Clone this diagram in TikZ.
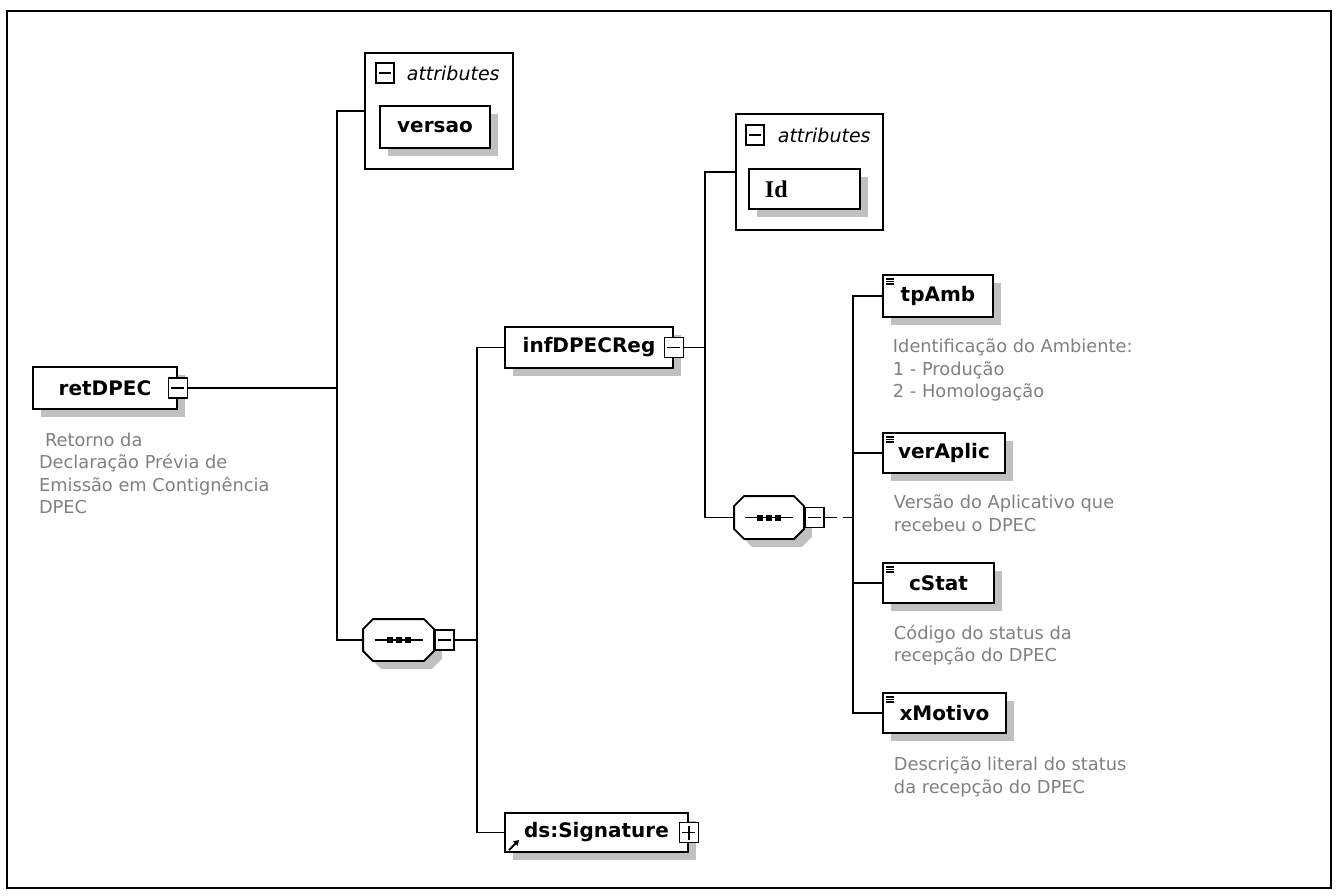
\documentclass[tikz,border=0pt]{standalone}
\usepackage{fontspec}
\setmainfont{DejaVu Sans}
\newfontfamily\serifbold{Liberation Serif}
\usetikzlibrary{positioning,calc,shadows,arrows.meta}
\definecolor{descgray}{RGB}{128,128,128}
\definecolor{shadowgray}{RGB}{192,192,192}

% octagon of a sequence compositor, drawn round a node
\newcommand{\seqoutline}[1]{%
  \fill [shadowgray,transform canvas={shift={(8pt,-8pt)}}]
    ([xshift=10pt]#1.north west) -- ([xshift=-10pt]#1.north east) -- ([yshift=-10pt]#1.north east)
    -- ([yshift=10pt]#1.south east) -- ([xshift=-10pt]#1.south east) -- ([xshift=10pt]#1.south west)
    -- ([yshift=10pt]#1.south west) -- ([yshift=-10pt]#1.north west) -- cycle;
  \filldraw [fill=white,line width=1.9pt]
    ([xshift=10pt]#1.north west) -- ([xshift=-10pt]#1.north east) -- ([yshift=-10pt]#1.north east)
    -- ([yshift=10pt]#1.south east) -- ([xshift=-10pt]#1.south east) -- ([xshift=10pt]#1.south west)
    -- ([yshift=10pt]#1.south west) -- ([yshift=-10pt]#1.north west) -- cycle;
  \draw [line width=1.6pt] ([xshift=-24pt]#1.center) -- ([xshift=24pt]#1.center);
  \foreach \d in {-9pt,0pt,9pt}
    \fill [black] ([xshift=\d]#1.center) +(-3pt,-3pt) rectangle +(3pt,3pt);
}

\begin{document}
\begin{tikzpicture}[x=1pt,y=-1pt]
  \useasboundingbox (0,0) rectangle (1338,895);
  \draw [line width=2.4pt] (7,11) rectangle (1331,888);
  \begin{scope}[
    every node/.style={
      inner sep=0pt,
      line width=1.9pt,
    },
    setanchor/.style={
      anchor=west,
    },
    elem/.style={
      rectangle,
      draw,
      fill=white,
      minimum height=41pt,
      font=\fontsize{20}{23}\selectfont\bfseries,
      drop shadow={shadow xshift=8pt,shadow yshift=-8pt,fill=shadowgray,opacity=1},
    },
    simple/.style={
      elem,
      path picture={
        \foreach \d in {4pt,6.5pt,9pt}
          \draw [line width=1.1pt] ([xshift=3pt,yshift=-\d]path picture bounding box.north west) -- ++(8pt,0pt);
      },
    },
    refelem/.style={
      elem,
      path picture={
        \draw [line width=1.8pt,-{Triangle[length=5pt,width=6pt]}]
          ([xshift=4pt,yshift=2pt]path picture bounding box.south west) -- ++(10pt,10pt);
      },
    },
    btnbox/.style={
      rectangle,
      draw,
      fill=white,
      minimum width=19pt,
      minimum height=20pt,
    },
    btnminus/.style={
      btnbox,
      path picture={
        \draw [line width=1.5pt] ([xshift=3pt]path picture bounding box.west) -- ([xshift=-3pt]path picture bounding box.east);
      },
    },
    btnplus/.style={
      btnbox,
      path picture={
        \draw [line width=1.5pt] ([xshift=3pt]path picture bounding box.west) -- ([xshift=-3pt]path picture bounding box.east);
        \draw [line width=1.5pt] ([yshift=-3pt]path picture bounding box.north) -- ([yshift=3pt]path picture bounding box.south);
      },
    },
    seqbox/.style={
      rectangle,
      minimum width=69pt,
      minimum height=40pt,
    },
    attrbox/.style={
      rectangle,
      draw,
      minimum width=148pt,
      minimum height=116pt,
      anchor=north west,
    },
    attrlabel/.style={
      font=\fontsize{19}{22}\selectfont\itshape,
    },
    desc/.style={
      font=\fontsize{17.8}{22.5}\selectfont,
      text=descgray,
      align=left,
    },
    ]
    % retDPEC
    \node [elem,minimum width=144pt,minimum height=42pt] (retDPEC) at (105,388) {retDPEC};
    \node [btnminus] (retDPECbtn) at (retDPEC.east) {};
    \node [desc,below right=22pt and 6pt of retDPEC.south west] (retDPECdesc)
    {\hspace*{6pt}Retorno da\\Declaração Prévia de\\Emissão em Contignência\\DPEC};

    % attributes of retDPEC
    \node [attrbox] (retattrs) at (364,52) {};
    \node [btnminus,minimum width=18pt,below right=10pt and 11pt of retattrs.north west] (retattrsbtn) {};
    \node [attrlabel,right=11pt of retattrsbtn] (retattrslbl) {attributes};
    \node [elem,minimum width=110pt,minimum height=42pt,below right=53pt and 15pt of retattrs.north west] (versao) {versao};

    % sequence of retDPEC
    \node [seqbox] (retseq) at (398.5,640) {};
    \seqoutline{retseq}
    \node [btnminus,right=0pt of retseq] (retseqbtn) {};

    % infDPECReg
    \node [elem,minimum width=168pt] (infDPECReg) at (589,347.5) {infDPECReg};
    \node [btnminus] (infDPECRegbtn) at (infDPECReg.east) {};

    % ds:Signature
    \node [refelem,minimum width=183pt,minimum height=39pt] (signature) at (596.5,832.5) {\hspace*{6pt}ds:Signature\hspace*{6pt}};
    \node [btnplus] (signaturebtn) at (signature.east) {};

    % attributes of infDPECReg
    \node [attrbox,minimum width=147pt] (infattrs) at (735,113) {};
    \node [btnminus,minimum width=18pt,below right=11pt and 10pt of infattrs.north west] (infattrsbtn) {};
    \node [attrlabel,right=12pt of infattrsbtn] (infattrslbl) {attributes};
    \node [elem,font=\fontsize{24}{26}\selectfont\serifbold\bfseries,text width=79pt,inner xsep=16pt,align=left,
      minimum height=40pt,below right=55pt and 13pt of infattrs.north west] (Id) {Id};

    % sequence of infDPECReg
    \node [seqbox,minimum width=68pt,minimum height=41pt] (infseq) at (769,517.5) {};
    \seqoutline{infseq}
    \node [btnminus,right=0pt of infseq] (infseqbtn) {};

    % tpAmb
    \node [simple,setanchor,minimum width=110pt,minimum height=42pt] (tpAmb) at (882,296) {tpAmb};
    \node [desc,below right=20pt and 10pt of tpAmb.south west] (tpAmbdesc)
    {Identificação do Ambiente:\\1 - Produção\\2 - Homologação};

    % verAplic
    \node [simple,setanchor,minimum width=122pt,minimum height=40pt] (verAplic) at (882,453) {verAplic};
    \node [desc,below right=20pt and 11pt of verAplic.south west] (verAplicdesc)
    {Versão do Aplicativo que\\recebeu o DPEC};

    % cStat
    \node [simple,setanchor,minimum width=111pt,minimum height=40pt] (cStat) at (882,583) {cStat};
    \node [desc,below right=20pt and 11pt of cStat.south west] (cStatdesc)
    {Código do status da\\recepção do DPEC};

    % xMotivo
    \node [simple,setanchor,minimum width=123pt,minimum height=40pt] (xMotivo) at (882,713) {xMotivo};
    \node [desc,below right=22pt and 11pt of xMotivo.south west] (xMotivodesc)
    {Descrição literal do status\\da recepção do DPEC};
  \end{scope}
  \begin{scope}[
    link/.style={
      line width=1.9pt,
    },
    ]
    % Path retDPEC
    \draw [link] (retDPECbtn.east) -- ++(149,0) coordinate (jret);
    \draw [link] (jret) |- (retattrs.west);
    \draw [link] (jret) |- (retseq.west);

    % Path retseq
    \draw [link] (retseqbtn.east) -- ++(22,0) coordinate (jretseq);
    \draw [link] (jretseq) |- (infDPECReg.west);
    \draw [link] (jretseq) |- (signature.west);

    % Path infDPECReg
    \draw [link] (infDPECRegbtn.east) -- ++(21,0) coordinate (jinf);
    \draw [link] (jinf) |- (infattrs.west);
    \draw [link] (jinf) |- (infseq.west);

    % Path infseq
    \draw [link,dash pattern=on 12pt off 6pt] (infseqbtn.east) -- ++(28,0) coordinate (jinfseq);
    \draw [link] (jinfseq) |- (tpAmb.west);
    \draw [link] (jinfseq) |- (verAplic.west);
    \draw [link] (jinfseq) |- (cStat.west);
    \draw [link] (jinfseq) |- (xMotivo.west);
  \end{scope}
\end{tikzpicture}
\end{document}
